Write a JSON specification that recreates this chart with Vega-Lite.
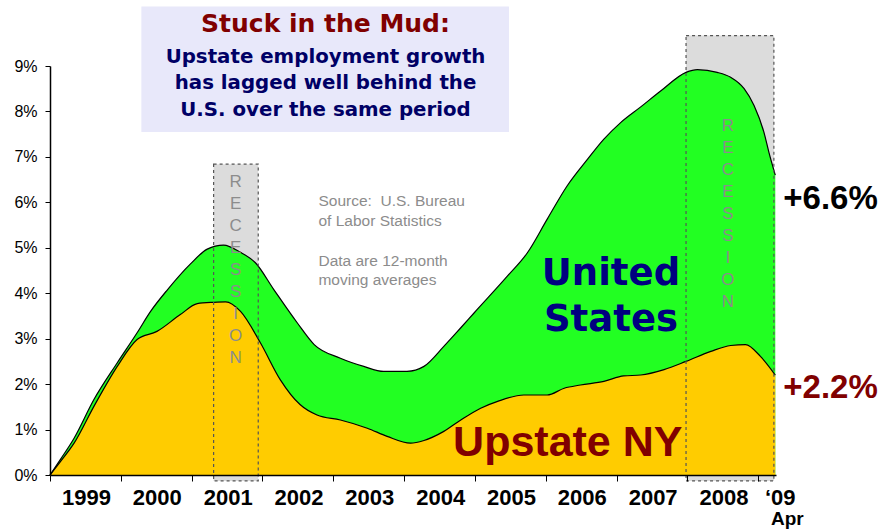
{
  "$schema": "https://vega.github.io/schema/vega-lite/v6.json",
  "width": 726,
  "height": 409,
  "autosize": {"type": "none"},
  "padding": {"left": 50, "top": 66, "right": 110, "bottom": 56},
  "background": "white",
  "config": {"view": {"stroke": null}},
  "datasets": {
    "us": [
      {"x": 1999.0, "y": 0}, {"x": 1999.15, "y": 0.35}, {"x": 1999.34, "y": 0.81}, {"x": 1999.62, "y": 1.66},
      {"x": 1999.95, "y": 2.47}, {"x": 2000.23, "y": 3.13}, {"x": 2000.42, "y": 3.6}, {"x": 2000.66, "y": 4.08},
      {"x": 2000.98, "y": 4.64}, {"x": 2001.22, "y": 4.97}, {"x": 2001.45, "y": 5.06}, {"x": 2001.69, "y": 4.9},
      {"x": 2001.9, "y": 4.67}, {"x": 2002.16, "y": 4.08}, {"x": 2002.49, "y": 3.35}, {"x": 2002.73, "y": 2.87},
      {"x": 2003.1, "y": 2.57}, {"x": 2003.43, "y": 2.39}, {"x": 2003.71, "y": 2.28}, {"x": 2004.04, "y": 2.28},
      {"x": 2004.28, "y": 2.39}, {"x": 2004.56, "y": 2.83}, {"x": 2004.8, "y": 3.24}, {"x": 2004.99, "y": 3.57},
      {"x": 2005.46, "y": 4.38}, {"x": 2005.74, "y": 4.89}, {"x": 2006.02, "y": 5.63}, {"x": 2006.3, "y": 6.36},
      {"x": 2006.59, "y": 6.95}, {"x": 2006.82, "y": 7.39}, {"x": 2007.06, "y": 7.76}, {"x": 2007.34, "y": 8.1},
      {"x": 2007.63, "y": 8.46}, {"x": 2007.98, "y": 8.86}, {"x": 2008.14, "y": 8.92}, {"x": 2008.42, "y": 8.86},
      {"x": 2008.61, "y": 8.75}, {"x": 2008.8, "y": 8.5}, {"x": 2008.94, "y": 8.13}, {"x": 2009.08, "y": 7.54},
      {"x": 2009.15, "y": 7.1}, {"x": 2009.24, "y": 6.6}
    ],
    "ny": [
      {"x": 1999.0, "y": 0}, {"x": 1999.15, "y": 0.3}, {"x": 1999.34, "y": 0.7}, {"x": 1999.62, "y": 1.51},
      {"x": 1999.95, "y": 2.39}, {"x": 2000.23, "y": 2.98}, {"x": 2000.51, "y": 3.16}, {"x": 2000.84, "y": 3.53},
      {"x": 2001.08, "y": 3.77}, {"x": 2001.31, "y": 3.8}, {"x": 2001.48, "y": 3.81}, {"x": 2001.69, "y": 3.6},
      {"x": 2001.97, "y": 2.91}, {"x": 2002.25, "y": 2.1}, {"x": 2002.53, "y": 1.55}, {"x": 2002.77, "y": 1.32},
      {"x": 2003.1, "y": 1.21}, {"x": 2003.48, "y": 1.03}, {"x": 2003.76, "y": 0.85}, {"x": 2004.09, "y": 0.7},
      {"x": 2004.28, "y": 0.76}, {"x": 2004.56, "y": 0.96}, {"x": 2004.8, "y": 1.21}, {"x": 2005.08, "y": 1.47},
      {"x": 2005.32, "y": 1.62}, {"x": 2005.69, "y": 1.76}, {"x": 2006.02, "y": 1.76}, {"x": 2006.26, "y": 1.91},
      {"x": 2006.49, "y": 1.98}, {"x": 2006.82, "y": 2.06}, {"x": 2007.1, "y": 2.18}, {"x": 2007.34, "y": 2.2},
      {"x": 2007.67, "y": 2.32}, {"x": 2007.98, "y": 2.5}, {"x": 2008.33, "y": 2.72}, {"x": 2008.61, "y": 2.85},
      {"x": 2008.82, "y": 2.87}, {"x": 2009.03, "y": 2.61}, {"x": 2009.24, "y": 2.2}
    ],
    "recession": [
      {"x": 2001.31, "x2": 2001.94, "y": -0.13, "y2": 6.84},
      {"x": 2007.98, "x2": 2009.22, "y": -0.13, "y2": 9.67}
    ],
    "recessionlabel": [
      {"x": 2001.62, "y": 6.45},
      {"x": 2008.57, "y": 7.69}
    ],
    "titlebox": [{"x": 2000.29, "x2": 2005.48, "y": 7.55, "y2": 10.31}],
    "headline": [{"x": 2002.89, "y": 9.93, "text": "Stuck in the Mud:"}],
    "subhead": [
      {"x": 2002.89, "y": 9.2, "text": "Upstate employment growth"},
      {"x": 2002.89, "y": 8.63, "text": "has lagged well behind the"},
      {"x": 2002.89, "y": 8.04, "text": "U.S. over the same period"}
    ],
    "note": [
      {"x": 2002.79, "y": 6.03, "text": "Source:\u00a0 U.S. Bureau"},
      {"x": 2002.79, "y": 5.59, "text": "of Labor Statistics"},
      {"x": 2002.79, "y": 4.7, "text": "Data are 12-month"},
      {"x": 2002.79, "y": 4.28, "text": "moving averages"}
    ],
    "uslabel": [
      {"x": 2006.92, "y": 4.42, "text": "United"},
      {"x": 2006.92, "y": 3.42, "text": "States"}
    ],
    "nylabel": [{"x": 2006.31, "y": 0.71, "text": "Upstate NY"}],
    "usend": [{"x": 2010.02, "y": 6.07, "text": "+6.6%"}],
    "nyend": [{"x": 2010.02, "y": 1.92, "text": "+2.2%"}],
    "endyear": [{"x": 2009.31, "y": 0, "text": "‘09"}],
    "endmonth": [{"x": 2009.41, "y": 0, "text": "Apr"}]
  },
  "encoding": {
    "x": {"field": "x", "type": "quantitative", "scale": {"domain": [1999, 2009.25], "nice": false, "zero": false}, "title": null,
      "axis": {"values": [1999, 2000, 2001, 2002, 2003, 2004, 2005, 2006, 2007, 2008, 2009],
        "labelExpr": "datum.value <= 2008 ? '' + datum.value : ''",
        "labelOffset": 36, "labelOverlap": false, "labelFlush": false, "labelBound": false,
        "labelFont": "Liberation Sans", "labelFontSize": 22, "labelFontWeight": "bold", "labelColor": "black",
        "labelPadding": 6, "tickSize": 6, "tickColor": "black", "domainColor": "black", "domainWidth": 1.5,
        "tickWidth": 1, "grid": false, "title": null, "zindex": 1}},
    "y": {"field": "y", "type": "quantitative", "scale": {"domain": [0, 9], "nice": false}, "title": null,
      "axis": {"values": [0, 1, 2, 3, 4, 5, 6, 7, 8, 9], "labelExpr": "datum.value + '%'",
        "labelFont": "Liberation Sans", "labelFontSize": 16, "labelColor": "black", "labelPadding": 8,
        "tickSize": 5, "tickColor": "black", "domainColor": "black", "domainWidth": 1.5, "grid": false, "title": null, "zindex": 1}}
  },
  "layer": [
    {
      "data": {"name": "titlebox"},
      "mark": {"type": "rect", "fill": "#e8e8fa"},
      "encoding": {"x2": {"field": "x2"}, "y2": {"field": "y2"}}
    },
    {
      "data": {"name": "recession"},
      "mark": {"type": "rect", "fill": "#dcdcdc"},
      "encoding": {"x2": {"field": "x2"}, "y2": {"field": "y2"}}
    },
    {
      "data": {"name": "us"},
      "mark": {"type": "area", "fill": "#22ff22", "opacity": 1, "interpolate": "monotone"}
    },
    {
      "data": {"name": "ny"},
      "mark": {"type": "area", "fill": "#ffcc00", "opacity": 1, "interpolate": "monotone"}
    },
    {
      "data": {"name": "us"},
      "mark": {"type": "line", "color": "black", "strokeWidth": 1.2, "interpolate": "monotone"}
    },
    {
      "data": {"name": "ny"},
      "mark": {"type": "line", "color": "black", "strokeWidth": 1.2, "interpolate": "monotone"}
    },
    {
      "data": {"name": "recession"},
      "mark": {"type": "rect", "fill": null, "fillOpacity": 0, "stroke": "#555555", "strokeWidth": 1.2, "strokeDash": [3, 3]},
      "encoding": {"x2": {"field": "x2"}, "y2": {"field": "y2"}}
    },
    {
      "data": {"name": "recessionlabel"},
      "mark": {"type": "text", "text": "R\nE\nC\nE\nS\nS\nI\nO\nN", "lineBreak": "\n", "lineHeight": 22, "font": "Liberation Sans", "fontSize": 17, "color": "#8c8c8c", "align": "center", "baseline": "middle"}
    },
    {
      "data": {"name": "headline"},
      "mark": {"type": "text", "font": "DejaVu Sans", "fontSize": 25, "fontWeight": "bold", "color": "#800000", "align": "center", "baseline": "middle"},
      "encoding": {"text": {"field": "text"}}
    },
    {
      "data": {"name": "subhead"},
      "mark": {"type": "text", "font": "DejaVu Sans", "fontSize": 19.8, "fontWeight": "bold", "color": "#000066", "align": "center", "baseline": "middle"},
      "encoding": {"text": {"field": "text"}}
    },
    {
      "data": {"name": "note"},
      "mark": {"type": "text", "font": "Liberation Sans", "fontSize": 15.5, "color": "#8c8c8c", "align": "left", "baseline": "middle"},
      "encoding": {"text": {"field": "text"}}
    },
    {
      "data": {"name": "uslabel"},
      "mark": {"type": "text", "font": "DejaVu Sans", "fontSize": 37, "fontWeight": "bold", "color": "#000080", "align": "center", "baseline": "middle"},
      "encoding": {"text": {"field": "text"}}
    },
    {
      "data": {"name": "nylabel"},
      "mark": {"type": "text", "font": "Liberation Sans", "fontSize": 43, "fontWeight": "bold", "color": "#800000", "align": "center", "baseline": "middle"},
      "encoding": {"text": {"field": "text"}}
    },
    {
      "data": {"name": "usend"},
      "mark": {"type": "text", "font": "Liberation Sans", "fontSize": 33, "fontWeight": "bold", "color": "black", "align": "center", "baseline": "middle"},
      "encoding": {"text": {"field": "text"}}
    },
    {
      "data": {"name": "nyend"},
      "mark": {"type": "text", "font": "Liberation Sans", "fontSize": 33, "fontWeight": "bold", "color": "#800000", "align": "center", "baseline": "middle"},
      "encoding": {"text": {"field": "text"}}
    },
    {
      "data": {"name": "endyear"},
      "mark": {"type": "text", "font": "Liberation Sans", "fontSize": 22, "fontWeight": "bold", "color": "black", "align": "center", "baseline": "middle", "dy": 23},
      "encoding": {"text": {"field": "text"}}
    },
    {
      "data": {"name": "endmonth"},
      "mark": {"type": "text", "font": "Liberation Sans", "fontSize": 19, "fontWeight": "bold", "color": "black", "align": "center", "baseline": "middle", "dy": 44},
      "encoding": {"text": {"field": "text"}}
    }
  ]
}
